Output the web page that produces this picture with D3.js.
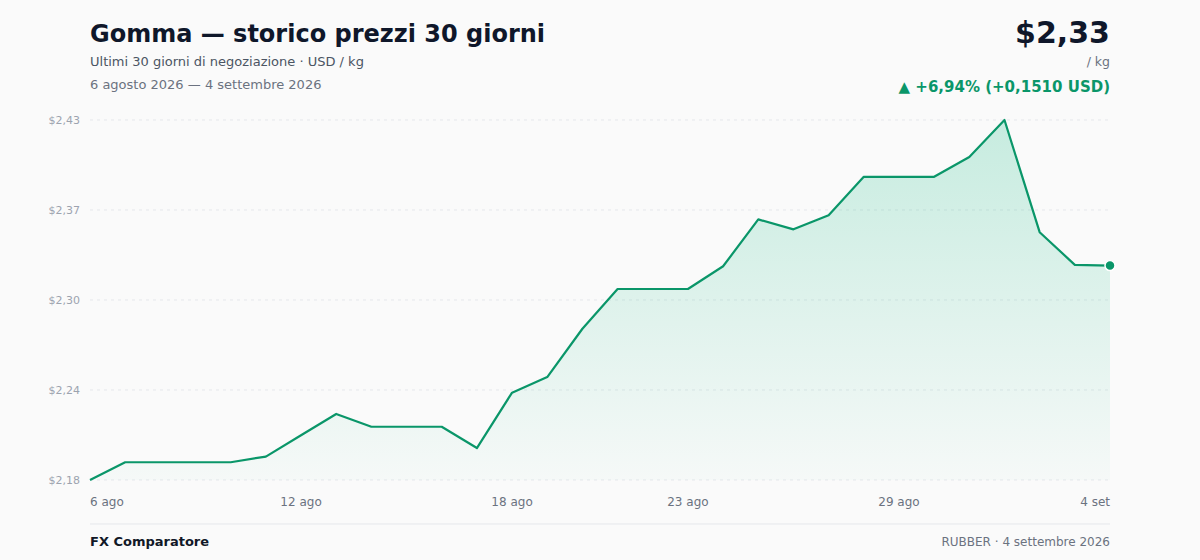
<!DOCTYPE html>
<html><head><meta charset="utf-8">
<script src="https://cdn.jsdelivr.net/npm/d3@7/dist/d3.min.js"></script>
<style>
html,body{margin:0;padding:0;background:#fafafa;}
svg{display:block;font-family:"DejaVu Sans",sans-serif;}
</style></head><body>
<svg id="chart" width="1200" height="560"></svg>
<script>
const dates = ["6 ago","7 ago","8 ago","9 ago","10 ago","11 ago","12 ago","13 ago","14 ago","15 ago","16 ago","17 ago","18 ago","19 ago","20 ago","21 ago","22 ago","23 ago","24 ago","25 ago","26 ago","27 ago","28 ago","29 ago","30 ago","31 ago","1 set","2 set","3 set","4 set"];
const prices = [2.1765,2.189,2.189,2.189,2.189,2.193,2.208,2.223,2.214,2.214,2.214,2.199,2.238,2.249,2.283,2.311,2.311,2.311,2.327,2.360,2.353,2.363,2.390,2.390,2.390,2.404,2.430,2.351,2.328,2.3275];
const xTickIndex = [0,6,12,17,23,29];
const yTickLabels = ["$2,18","$2,24","$2,30","$2,37","$2,43"];
const titleText = "Gomma — storico prezzi 30 giorni";
const subtitleText = "Ultimi 30 giorni di negoziazione · USD / kg";
const rangeText = "6 agosto 2026 — 4 settembre 2026";
const priceText = "$2,33";
const unitText = "/ kg";
const changeText = "▲ +6,94% (+0,1510 USD)";
const footerLeft = "FX Comparatore";
const footerRight = "RUBBER · 4 settembre 2026";

(function(){
const svg = d3.select("#chart");
const pL = 90, pR = 1110, pT = 120, pB = 480;
const green = "#0a9669";

const x = d3.scalePoint().domain(d3.range(prices.length)).range([pL, pR]);
const yMin = d3.min(prices), yMax = d3.max(prices);
const y = d3.scaleLinear().domain([yMin, yMax]).range([pB, pT]);

const defs = svg.append("defs");
const grad = defs.append("linearGradient").attr("id","areaGrad").attr("x1",0).attr("y1",0).attr("x2",0).attr("y2",1);
grad.append("stop").attr("offset","0%").attr("stop-color","#10b981").attr("stop-opacity",0.22);
grad.append("stop").attr("offset","100%").attr("stop-color","#10b981").attr("stop-opacity",0.02);

const yTickVals = d3.range(yTickLabels.length).map(i => yMin + (yMax - yMin) * i / (yTickLabels.length - 1));
const gGrid = svg.append("g");
gGrid.selectAll("line").data(yTickVals).join("line")
  .attr("x1", pL).attr("x2", pR)
  .attr("y1", d => y(d)).attr("y2", d => y(d))
  .attr("stroke", "#e5e7eb").attr("stroke-width", 1).attr("stroke-dasharray", "3,4");
gGrid.selectAll("text").data(yTickVals).join("text")
  .attr("x", pL - 10).attr("y", d => y(d) + 4)
  .attr("text-anchor", "end").attr("font-size", 11).attr("fill", "#9ca3af")
  .text((d, i) => yTickLabels[i]);

const area = d3.area().x((d,i) => x(i)).y0(pB).y1(d => y(d));
svg.append("path").datum(prices).attr("d", area).attr("fill", "url(#areaGrad)");
const line = d3.line().x((d,i) => x(i)).y(d => y(d));
svg.append("path").datum(prices).attr("d", line).attr("fill", "none")
  .attr("stroke", green).attr("stroke-width", 2.2).attr("stroke-linejoin", "round");
const last = prices.length - 1;
svg.append("circle").attr("cx", x(last)).attr("cy", y(prices[last])).attr("r", 5)
  .attr("fill", green).attr("stroke", "#ffffff").attr("stroke-width", 1.5);

svg.append("g").selectAll("text").data(xTickIndex).join("text")
  .attr("x", d => x(d)).attr("y", 506)
  .attr("text-anchor", (d, i) => i === 0 ? "start" : (i === xTickIndex.length - 1 ? "end" : "middle"))
  .attr("font-size", 12).attr("fill", "#6b7280")
  .text(d => dates[d]);

svg.append("text").attr("x", pL).attr("y", 42).attr("font-size", 24).attr("font-weight", "bold").attr("fill", "#0f172a").text(titleText);
svg.append("text").attr("x", pL).attr("y", 66).attr("font-size", 13).attr("fill", "#4b5563").text(subtitleText);
svg.append("text").attr("x", pL).attr("y", 89).attr("font-size", 13).attr("fill", "#6b7280").text(rangeText);
svg.append("text").attr("x", pR).attr("y", 43).attr("text-anchor","end").attr("font-size", 30).attr("font-weight", "bold").attr("fill", "#0f172a").text(priceText);
svg.append("text").attr("x", pR).attr("y", 66).attr("text-anchor","end").attr("font-size", 12.5).attr("fill", "#6b7280").text(unitText);
svg.append("text").attr("x", pR).attr("y", 92).attr("text-anchor","end").attr("font-size", 15).attr("font-weight", "bold").attr("fill", green).text(changeText);

svg.append("line").attr("x1", pL).attr("x2", pR).attr("y1", 524).attr("y2", 524).attr("stroke", "#e5e7eb").attr("stroke-width", 1);
svg.append("text").attr("x", pL).attr("y", 546).attr("font-size", 13).attr("font-weight", "bold").attr("fill", "#111827").text(footerLeft);
svg.append("text").attr("x", pR).attr("y", 546).attr("text-anchor","end").attr("font-size", 12).attr("fill", "#6b7280").text(footerRight);
})();
</script>
</body></html>
